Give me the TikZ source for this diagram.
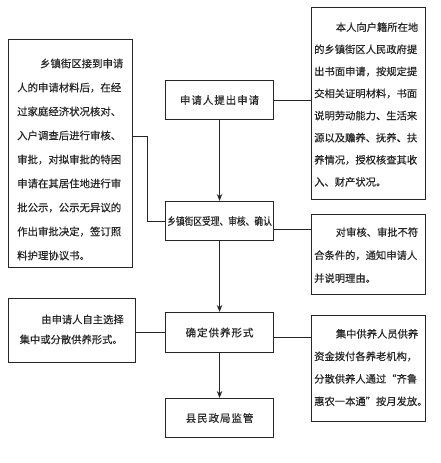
\documentclass[tikz,border=0pt]{standalone}
\usepackage{fontspec}
\setmainfont[FakeBold=0.35]{Noto Sans CJK SC}
\newfontfamily\cjkls[LetterSpace=9,FakeBold=0.35]{Noto Sans CJK SC}
\usepackage{graphicx}
\usetikzlibrary{arrows.meta}
\definecolor{ink}{HTML}{262626}
\begin{document}
\begin{tikzpicture}[x=1pt,y=-1pt,
  box/.style={draw=ink, line width=1.1pt, inner sep=0pt, anchor=north west},
  ctext/.style={inner sep=0pt, text=ink, font=\fontsize{10.5}{12}\selectfont},
  txt/.style={inner sep=0pt, anchor=north west, align=left, text=ink},
  link/.style={draw=ink, line width=1pt},
  arr/.style={link, -{Stealth[length=7pt,width=5.5pt]}}]
\useasboundingbox[fill=white] (0,0) rectangle (440,463);
% boxes
\node[box, minimum width=124pt, minimum height=228pt] (L1) at (8,39) {};
\node[box, minimum width=127pt, minimum height=64pt] (L2) at (8,298) {};
\node[box, minimum width=108pt, minimum height=39pt] (C1) at (165,80) {};
\node[box, minimum width=108pt, minimum height=39pt] (C2) at (165,201) {};
\node[box, minimum width=108pt, minimum height=40pt] (C3) at (165,312) {};
\node[box, minimum width=108pt, minimum height=39pt] (C4) at (165,398) {};
\node[box, minimum width=114pt, minimum height=192pt] (R1) at (311,7) {};
\node[box, minimum width=114pt, minimum height=80pt] (R2) at (311,214) {};
\node[box, minimum width=114pt, minimum height=106pt] (R3) at (311,315) {};
% centre labels
\node[ctext] (t1) at (C1.center) {\cjkls 申请人提出申请};
\node[ctext] (t2) at (C2.center) {\scalebox{0.83}[1]{乡镇街区受理、审核、确认}};
\node[ctext] (t3) at (C3.center) {\cjkls 确定供养形式};
\node[ctext] (t4) at (C4.center) {\cjkls 县民政局监管};
% paragraph texts
\node[txt, font=\fontsize{10.4}{24}\selectfont] (p1) at (17,58.5) {%
\hspace*{2.2em}乡镇街区接到申请\\
人的申请材料后，在经\\
过家庭经济状况核对、\\
入户调查后进行审核、\\
审批，对拟审批的特困\\
申请在其居住地进行审\\
批公示，公示无异议的\\
作出审批决定，签订照\\
料护理协议书。};
\node[txt, font=\fontsize{10.3}{22.1}\selectfont] (p2) at (314,22.2) {%
\hspace*{2.1em}本人向户籍所在地\\
的乡镇街区人民政府提\\
出书面申请，按规定提\\
交相关证明材料，书面\\
说明劳动能力、生活来\\
源以及赡养、抚养、扶\\
养情况，授权核查其收\\
入、财产状况。};
\node[txt, font=\fontsize{10.3}{23}\selectfont] (p3) at (314,227.2) {%
\hspace*{2.1em}对审核、审批不符\\
合条件的，通知申请人\\
并说明理由。};
\node[txt, font=\fontsize{10.3}{22.5}\selectfont] (p4) at (314,328.8) {%
\hspace*{2.1em}集中供养人员供养\\
资金拨付各养老机构，\\
分散供养人通过“齐鲁\\
惠农一本通”按月发放。};
\node[txt, font=\fontsize{10.3}{20}\selectfont] (p5) at (19.5,314.5) {%
\hspace*{2.1em}由申请人自主选择\\
集中或分散供养形式。};
% connectors
\coordinate (j1) at (147.5,136.5);
\coordinate (j2) at (292,229.5);
\coordinate (j3) at (292,337.5);
\draw[link] (C1.east) -- (C1.east -| R1.west);
\draw[link] (j1 -| L1.east) -- (j1) |- (C2.west);
\draw[link] (j2 -| C2.east) -- (j2 -| R2.west);
\draw[link] (C3.west) -- (C3.west -| L2.east);
\draw[link] (j3 -| C3.east) -- (j3 -| R3.west);
\draw[arr] (C1.south) -- (C2.north);
\draw[arr] (C2.south) -- (C3.north);
\draw[arr] (C3.south) -- (C4.north);
\end{tikzpicture}
\end{document}
